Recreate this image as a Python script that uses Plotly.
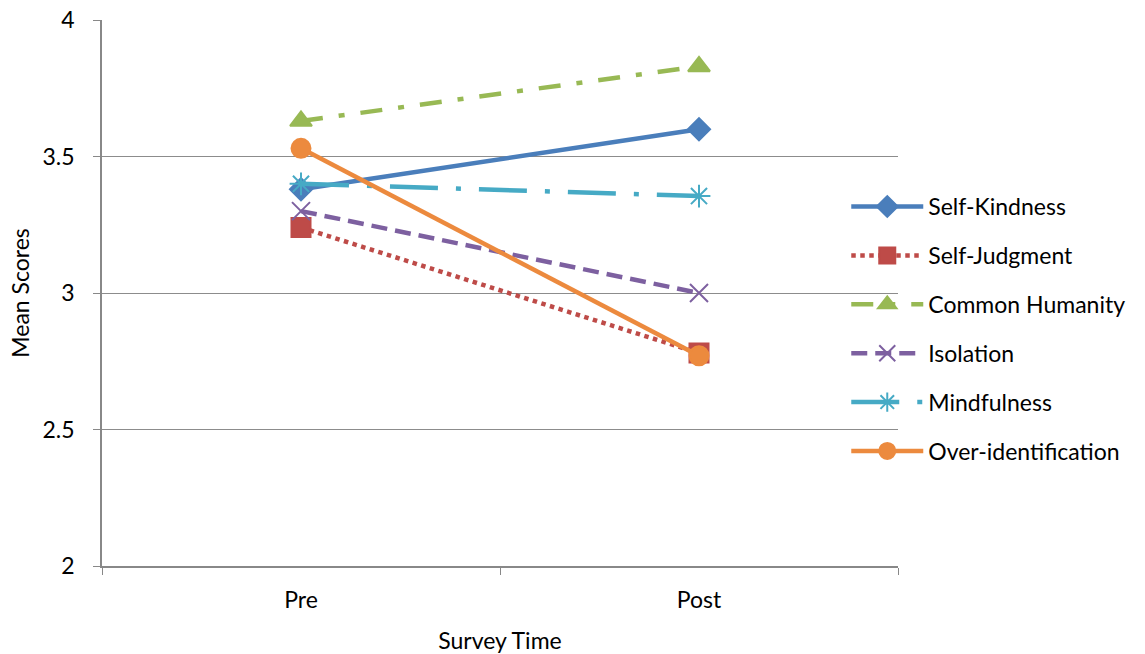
import plotly.graph_objects as go

categories = ["Pre", "Post"]
series_names = ["Self-Kindness", "Self-Judgment", "Common Humanity", "Isolation", "Mindfulness", "Over-identification"]
self_kindness = [3.38, 3.60]
self_judgment = [3.24, 2.78]
common_humanity = [3.63, 3.83]
isolation = [3.30, 3.00]
mindfulness = [3.40, 3.355]
over_identification = [3.53, 2.77]
y_ticks = [2, 2.5, 3, 3.5, 4]

values = [self_kindness, self_judgment, common_humanity, isolation, mindfulness, over_identification]
colors = ["#4A7EBB", "#BE4B48", "#98B954", "#7D60A0", "#46AAC5", "#EC8A3E"]
dashes = ["solid", "dot", "22px,16px,6px,16px", "16px,8px", "48px,18px,5px,18px", "solid"]
symbols = ["diamond", "square", "triangle-up", "x-thin-open", "asterisk-open", "circle"]
sizes = [17, 19, 19, 18, 19, 19]

fig = go.Figure()
for name, vals, c, d, s, sz in zip(series_names, values, colors, dashes, symbols, sizes):
    fig.add_trace(go.Scatter(
        x=categories, y=vals, name=name, mode="lines+markers",
        legendgroup=name,
        line=dict(color=c, width=4.5, dash=d),
        marker=dict(symbol=s, size=sz, color=c, line=dict(color=c, width=2)),
    ))

font = "Lato, Open Sans, sans-serif"
fs = 23
fig.update_layout(
    width=1145, height=654,
    margin=dict(l=102, r=247, t=20, b=88, autoexpand=False),
    paper_bgcolor="white", plot_bgcolor="white",
    font=dict(family=font, size=fs, color="#000000"),
    showlegend=True,
    legend=dict(x=0.935, xanchor="left", y=0.434, yanchor="middle",
                font=dict(size=fs), tracegroupgap=16, itemwidth=72,
                bgcolor="rgba(0,0,0,0)"),
    xaxis=dict(
        type="category", range=[-0.5, 1.5],
        showline=True, linecolor="#888888", linewidth=1.5,
        ticks="outside", tickson="boundaries", ticklen=7, tickcolor="#888888",
        showgrid=False, ticklabelstandoff=13,
        title=dict(text="Survey Time", font=dict(size=fs), standoff=21),
        tickfont=dict(size=fs),
    ),
    yaxis=dict(
        range=[2, 4], tickvals=y_ticks, ticktext=[str(v) for v in y_ticks],
        showline=True, linecolor="#888888", linewidth=1.5,
        ticks="outside", ticklen=7, tickcolor="#888888",
        showgrid=True, gridcolor="#8C8C8C", gridwidth=1.3,
        zeroline=False, ticklabelstandoff=14,
        title=dict(text="Mean Scores", font=dict(size=fs), standoff=6),
        tickfont=dict(size=fs),
    ),
)
fig.write_html("out.html")
